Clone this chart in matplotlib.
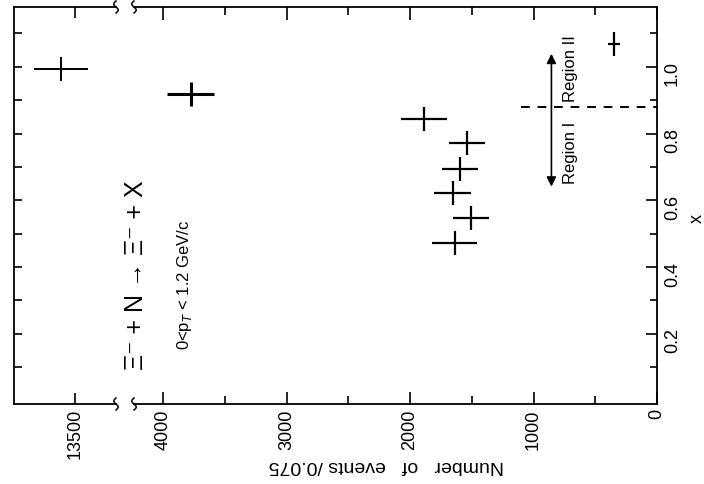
import numpy as np
import matplotlib.pyplot as plt
from matplotlib.lines import Line2D
from matplotlib.ticker import FixedLocator, FormatStrFormatter

plt.rcParams['font.family'] = ['Liberation Sans', 'DejaVu Sans']

# DATA: x bin centre, half bin width, events, error
x_val  = [0.473, 0.548, 0.623, 0.695, 0.772, 0.844, 0.919, 0.994, 1.069]
x_half = [0.036, 0.036, 0.036, 0.036, 0.036, 0.036, 0.036, 0.036, 0.036]
n_val  = [1637, 1508, 1653, 1597, 1540, 1887, 3774, 13613, 347]
n_err  = [181, 145, 149, 145, 145, 185, 190, 222, 48]
lw_pt  = [1.6, 1.6, 1.6, 1.6, 1.6, 1.6, 2.2, 1.4, 1.6]

region_cut = 0.88          # boundary between region I and II
cut_n      = [1105, 0]     # extent of dashed line in events
arrow_n    = 855
arrow_x    = [0.641, 1.039]

n_major = [0, 1000, 2000, 3000, 4000]
n_minor = [500, 1500, 2500, 3500]
x_major = [0.2, 0.4, 0.6, 0.8, 1.0]
x_minor = [0.1, 0.3, 0.5, 0.7, 0.9, 1.1]

#=================================================================#

W, H = 704, 485
fig = plt.figure(figsize=(W/100, H/100), dpi=100)
ax1 = fig.add_axes([14/W, 80/H, 102/W, 397/H])     # broken part (13500)
ax2 = fig.add_axes([134/W, 80/H, 523/W, 397/H])    # main part

ax1.set_xlim(13994, 13168)
ax2.set_xlim(4235, 0)
for ax in (ax1, ax2):
    ax.set_ylim(-0.01, 1.179)
    for sp in ax.spines.values():
        sp.set_linewidth(1.3)
    for i in range(len(x_val)):
        ax.errorbar(n_val[i], x_val[i], xerr=n_err[i], yerr=x_half[i],
                    fmt='none', ecolor='black', elinewidth=lw_pt[i], capsize=0)

ax1.spines['right'].set_visible(False)
ax2.spines['left'].set_visible(False)

# ticks, broken segment
ax1.xaxis.set_major_locator(FixedLocator([13500]))
ax1.xaxis.set_minor_locator(FixedLocator([]))
ax1.yaxis.set_major_locator(FixedLocator(sorted(x_major + x_minor)))
ax1.tick_params(axis='x', which='both', direction='in', top=True, bottom=True,
                length=8, width=1.2, labelrotation=90, labelsize=13, pad=3)
ax1.tick_params(axis='y', which='both', direction='in', left=True, right=False,
                labelleft=False, length=6, width=1.2)

# ticks, main part
ax2.xaxis.set_major_locator(FixedLocator(n_major))
ax2.xaxis.set_minor_locator(FixedLocator(n_minor))
ax2.yaxis.set_major_locator(FixedLocator(x_major))
ax2.yaxis.set_minor_locator(FixedLocator(x_minor))
ax2.yaxis.set_major_formatter(FormatStrFormatter('%.1f'))
ax2.yaxis.tick_right()
ax2.tick_params(axis='x', which='both', direction='in', top=True, bottom=True,
                width=1.2, labelrotation=90, labelsize=13, pad=3)
ax2.tick_params(axis='x', which='major', length=9)
ax2.tick_params(axis='x', which='minor', length=6)
ax2.tick_params(axis='y', which='both', direction='in', left=False, right=True,
                width=1.2, labelrotation=90, labelsize=13, pad=5)
ax2.tick_params(axis='y', which='major', length=8)
ax2.tick_params(axis='y', which='minor', length=5)

# axis labels (the whole page is turned by 90 degrees)
ax2.set_xlabel('Number   of   events /0.075', fontsize=14, rotation=180)
ax2.xaxis.set_label_coords(0.482, -0.13)
ax2.set_ylabel('x', fontsize=13, rotation=90)
ax2.yaxis.set_label_position('right')
ax2.yaxis.set_label_coords(1.06, 0.47)

# axis break marks: small vertical squiggles at both ends of the gap
t = np.linspace(-1, 1, 30)
for px in (116, 134):
    for py in (8, 405):
        xs = (px + 2.2 * np.sin(np.pi * t)) / W
        ys = 1 - (py + 6 * t) / H
        fig.add_artist(Line2D(xs, ys, color='black', lw=1.1,
                              transform=fig.transFigure))

# region boundary and arrow
ax2.plot(cut_n, [region_cut, region_cut], color='black', lw=1.4,
         linestyle=(0, (4.5, 4)))
ax2.annotate('', xy=(arrow_n, arrow_x[1]), xytext=(arrow_n, arrow_x[0]),
             arrowprops=dict(arrowstyle='<|-|>', color='black', lw=1.2,
                             mutation_scale=14, shrinkA=0, shrinkB=0))
ax2.text(700, 0.745, 'Region I', rotation=90, fontsize=12, ha='center', va='center')
ax2.text(700, 0.997, 'Region II', rotation=90, fontsize=12, ha='center', va='center')

# reaction and cut
ax2.text(4215, 0.38, '\u039e\u207b + N \u2192 \u039e\u207b + X', rotation=90,
         fontsize=18, ha='center', va='center', clip_on=False)
ax2.text(3823, 0.35, r'0<p$_T$ < 1.2 GeV/c', rotation=90, fontsize=12,
         ha='center', va='center')

fig.savefig('out.png', dpi=100)
